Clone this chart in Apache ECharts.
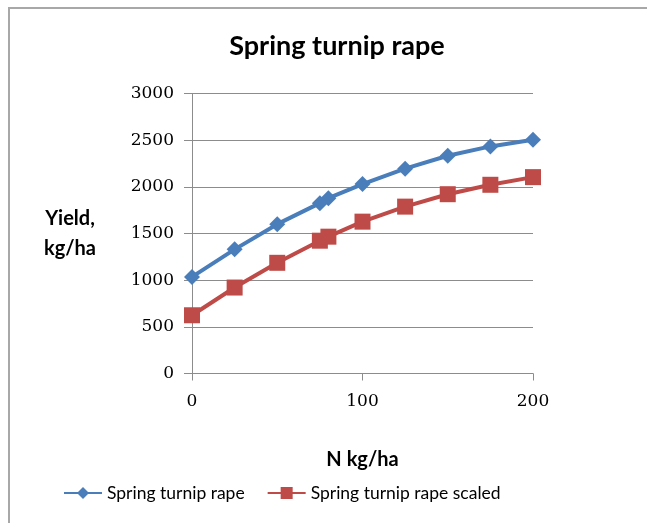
<!DOCTYPE html>
<html>
<head>
<meta charset="utf-8">
<script src="https://cdn.jsdelivr.net/npm/echarts@6/dist/echarts.min.js"></script>
<style>
  body { margin: 0; background: #fff; overflow: hidden; }
  .frame {
    position: absolute;
    left: 8px;
    top: 7px;
    width: 700px;
    height: 600px;
    border-left: 2px solid #a8a8a8;
    border-top: 2px solid #a8a8a8;
  }
  #chart { position: absolute; left: 0; top: 0; width: 647px; height: 523px; }
</style>
</head>
<body>
<div class="frame"></div>
<div id="chart"></div>
<script>
// N rate, kg/ha
const nRate = [0, 25, 50, 75, 80, 100, 125, 150, 175, 200];
const yieldRape = [1035, 1330, 1600, 1825, 1878, 2030, 2195, 2333, 2433, 2505];
const yieldScaled = [624, 921, 1186, 1423, 1466, 1627, 1788, 1921, 2022, 2104];
const yTicks = [0, 500, 1000, 1500, 2000, 2500, 3000];

const chart = echarts.init(document.getElementById('chart'));

const pairs = (ys) => nRate.map((x, i) => [x, ys[i]]);

const option = {
  backgroundColor: 'transparent',
  animation: false,
  title: {
    text: 'Spring turnip rape',
    left: 332,
    top: 28,
    textAlign: 'center',
    textStyle: {
      fontFamily: 'Lato',
      fontWeight: 'bold',
      fontSize: 27,
      color: '#000',
    },
  },
  legend: {
    bottom: 16,
    left: 58,
    itemWidth: 38,
    itemHeight: 15,
    itemGap: 22,
    textStyle: {
      fontFamily: 'Lato',
      fontSize: 17.5,
      color: '#000',
    },
    data: ['Spring turnip rape', 'Spring turnip rape scaled'],
  },
  color: ['#4a7ebb', '#be4b48'],
  grid: {
    left: 192,
    right: 114,
    top: 93.5,
    bottom: 149.5,
  },
  xAxis: {
    type: 'value',
    min: 0,
    max: 200,
    interval: 100,
    name: 'N kg/ha',
    nameLocation: 'middle',
    nameGap: 76,
    nameTextStyle: {
      fontFamily: 'Lato',
      fontWeight: 'bold',
      fontSize: 20,
      color: '#000',
    },
    axisLine: { show: true, lineStyle: { color: '#8c8c8c', width: 1 } },
    axisTick: { show: true, length: 7, lineStyle: { color: '#8c8c8c' } },
    splitLine: { show: false },
    axisLabel: {
      margin: 20,
      fontFamily: 'DejaVu Serif',
      fontSize: 17,
      color: '#000',
      formatter: (v) => String(v),
    },
  },
  yAxis: {
    type: 'value',
    min: yTicks[0],
    max: yTicks[yTicks.length - 1],
    interval: 500,
    name: 'Yield,\nkg/ha',
    nameLocation: 'middle',
    nameRotate: 0,
    nameGap: 122,
    nameTextStyle: {
      fontFamily: 'Lato',
      fontWeight: 'bold',
      fontSize: 20,
      lineHeight: 30,
      align: 'center',
      color: '#000',
    },
    axisLine: { show: true, lineStyle: { color: '#8c8c8c', width: 1 } },
    axisTick: { show: true, length: 8, lineStyle: { color: '#8c8c8c' } },
    splitLine: { show: true, lineStyle: { color: '#8c8c8c', width: 1 } },
    axisLabel: {
      margin: 18,
      fontFamily: 'DejaVu Serif',
      fontSize: 17,
      color: '#000',
      formatter: (v) => String(v),
    },
  },
  series: [
    {
      name: 'Spring turnip rape',
      type: 'line',
      symbol: 'diamond',
      symbolSize: 16,
      lineStyle: { width: 4 },
      data: pairs(yieldRape),
    },
    {
      name: 'Spring turnip rape scaled',
      type: 'line',
      symbol: 'rect',
      symbolSize: 16,
      lineStyle: { width: 4 },
      data: pairs(yieldScaled),
    },
  ],
};

chart.setOption(option);
</script>
</body>
</html>
